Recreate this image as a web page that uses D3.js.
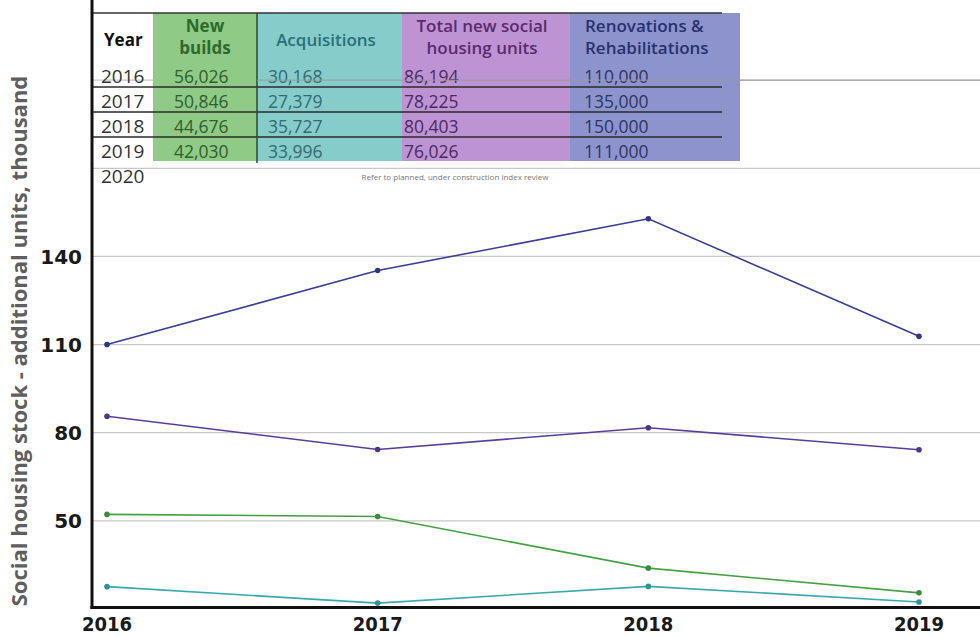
<!DOCTYPE html>
<html>
<head>
<meta charset="utf-8">
<script src="https://cdn.jsdelivr.net/npm/d3@7"></script>
<style>
    body { margin: 0; background: #fff; }
    #chart { width: 980px; height: 637px; }
    .tick-y { font-family: "DejaVu Sans", sans-serif; font-weight: bold; font-size: 20px; fill: #1a1a1a; }
    .tick-x { font-family: "DejaVu Sans Condensed", "DejaVu Sans", sans-serif; font-weight: bold; font-size: 20px; fill: #1a1a1a; }
    .tbl { font-family: "Open Sans", sans-serif; }
</style>
</head>
<body>
<div id="chart"></div>
<script>

// plotted series (thousand units)
let years = [2016, 2017, 2018, 2019];
let renovations = [110.0, 135.2, 152.8, 112.8];
let totalNew = [85.6, 74.3, 81.7, 74.2];
let newBuilds = [52.2, 51.5, 33.9, 25.5];
let acquisitions = [27.6, 22.0, 27.7, 22.4];

// y ticks
let gridTicks = [50, 80, 110, 140, 170, 200];
let labelTicks = [50, 80, 110, 140];

// table contents
let tableYears = ["2016", "2017", "2018", "2019"];
let tableNewBuilds = ["56,026", "50,846", "44,676", "42,030"];
let tableAcquisitions = ["30,168", "27,379", "35,727", "33,996"];
let tableTotal = ["86,194", "78,225", "80,403", "76,026"];
let tableRenovations = ["110,000", "135,000", "150,000", "111,000"];

let width = 980, height = 637;

let svg = d3.select("#chart").append("svg")
    .attr("width", width)
    .attr("height", height);

let x = d3.scaleLinear().domain([2016, 2019]).range([107, 919]);
let y = d3.scaleLinear().domain([20, 230]).range([609, -8]);
let axisX = 92;

// gridlines
svg.append("g").selectAll("line")
    .data(gridTicks)
    .enter().append("line")
    .attr("x1", axisX).attr("x2", width)
    .attr("y1", d => y(d)).attr("y2", d => y(d))
    .attr("stroke", "#c8c8c8")
    .attr("stroke-width", 1.2);

/* ---------- table ---------- */
let colX = [92, 153, 257, 402, 570, 740];
let colFill = [null, "#8fca86", "#86cccb", "#bd93d3", "#8d94cd"];
let headTop = 13, rowTop = 62, rowH = 25, fillBottom = 161;

let tbl = svg.append("g").attr("class", "tbl");

tbl.selectAll("rect.col")
    .data(colFill.slice(1))
    .enter().append("rect")
    .attr("class", "col")
    .attr("x", (d, i) => colX[i + 1])
    .attr("y", headTop)
    .attr("width", (d, i) => colX[i + 2] - colX[i + 1])
    .attr("height", fillBottom - headTop)
    .attr("fill", d => d);

// gridline at 200 shows through the right part of the table
svg.append("line")
    .attr("x1", colX[2]).attr("x2", width)
    .attr("y1", y(200)).attr("y2", y(200))
    .attr("stroke", "#9a9a9a")
    .attr("stroke-width", 1);

// headers
let headers = [
    {lines: ["Year"], x: 104, anchor: "start", color: "#111", weight: 700},
    {lines: ["New", "builds"], x: 205, anchor: "middle", color: "#2d6a2d", weight: 700},
    {lines: ["Acquisitions"], x: 326, anchor: "middle", color: "#2b6f78", weight: 600},
    {lines: ["Total new social", "housing units"], x: 482, anchor: "middle", color: "#5b2a6e", weight: 600},
    {lines: ["Renovations &", "Rehabilitations"], x: 585, anchor: "start", color: "#29316e", weight: 600}
];

headers.forEach(h => {
    let t = tbl.append("text")
        .attr("x", h.x)
        .attr("text-anchor", h.anchor)
        .attr("fill", h.color)
        .attr("font-weight", h.weight)
        .attr("font-size", "17px");
    if (h.lines.length === 1) {
        t.append("tspan").attr("x", h.x).attr("y", 46).text(h.lines[0]);
    } else {
        t.append("tspan").attr("x", h.x).attr("y", 32).text(h.lines[0]);
        t.append("tspan").attr("x", h.x).attr("y", 54).text(h.lines[1]);
    }
});

// rows
let columns = [
    {vals: tableYears, x: 101, color: "#333", size: 19},
    {vals: tableNewBuilds, x: 174, color: "#2f5f2f", size: 17.5},
    {vals: tableAcquisitions, x: 268, color: "#356b72", size: 17.5},
    {vals: tableTotal, x: 404, color: "#4d2a5e", size: 17.5},
    {vals: tableRenovations, x: 584, color: "#2f3563", size: 17.5}
];

columns.forEach(c => {
    tbl.selectAll(null)
        .data(c.vals)
        .enter().append("text")
        .attr("x", c.x)
        .attr("y", (d, i) => rowTop + 21 + i * rowH)
        .attr("fill", c.color)
        .attr("font-size", c.size + "px")
        .text(d => d);
});

tbl.append("text")
    .attr("x", 101)
    .attr("y", rowTop + 21 + 4 * rowH)
    .attr("fill", "#333")
    .attr("font-size", "19px")
    .text("2020");

tbl.append("text")
    .attr("x", 455)
    .attr("y", 180)
    .attr("text-anchor", "middle")
    .attr("fill", "#777")
    .attr("font-size", "8px")
    .text("Refer to planned, under construction index review");

// table rules
tbl.append("line")
    .attr("x1", axisX).attr("x2", 722)
    .attr("y1", headTop).attr("y2", headTop)
    .attr("stroke", "#333").attr("stroke-width", 1.5);

tbl.selectAll("line.row")
    .data([1, 2, 3])
    .enter().append("line")
    .attr("class", "row")
    .attr("x1", axisX).attr("x2", 722)
    .attr("y1", d => rowTop + d * rowH).attr("y2", d => rowTop + d * rowH)
    .attr("stroke", "#2a2a2a").attr("stroke-width", 1.5);

tbl.append("line")
    .attr("x1", colX[2]).attr("x2", colX[2])
    .attr("y1", headTop).attr("y2", fillBottom + 2)
    .attr("stroke", "#2a4a3a").attr("stroke-width", 1.5);

/* ---------- series ---------- */
let series = [
    {name: "Renovations & Rehabilitations", values: renovations, color: "#3a3f98"},
    {name: "Total new social housing units", values: totalNew, color: "#5a3d9c"},
    {name: "New builds", values: newBuilds, color: "#45a045"},
    {name: "Acquisitions", values: acquisitions, color: "#3aa9ad"}
];

let line = d3.line()
    .x((d, i) => x(years[i]))
    .y(d => y(d));

let sg = svg.append("g").selectAll("g")
    .data(series)
    .enter().append("g");

sg.append("path")
    .attr("d", d => line(d.values))
    .attr("fill", "none")
    .attr("stroke", d => d.color)
    .attr("stroke-width", 1.6);

sg.selectAll("circle")
    .data(d => d.values.map(v => ({v: v, color: d.color})))
    .enter().append("circle")
    .attr("cx", (d, i) => x(years[i]))
    .attr("cy", d => y(d.v))
    .attr("r", 2.8)
    .attr("fill", d => d3.color(d.color).darker(0.4));

/* ---------- axes ---------- */
svg.append("line")
    .attr("x1", axisX).attr("x2", axisX)
    .attr("y1", 0).attr("y2", y(20))
    .attr("stroke", "#111").attr("stroke-width", 3);

svg.append("line")
    .attr("x1", axisX - 1.5).attr("x2", width)
    .attr("y1", y(20) - 1.5).attr("y2", y(20) - 1.5)
    .attr("stroke", "#111").attr("stroke-width", 3);

svg.append("g").selectAll("text")
    .data(labelTicks)
    .enter().append("text")
    .attr("class", "tick-y")
    .attr("x", 82)
    .attr("y", d => y(d))
    .attr("dy", "0.36em")
    .attr("text-anchor", "end")
    .text(d => d);

svg.append("g").selectAll("text")
    .data(years)
    .enter().append("text")
    .attr("class", "tick-x")
    .attr("x", d => x(d))
    .attr("y", 631)
    .attr("text-anchor", "middle")
    .text(d => d);

// y axis title
svg.append("text")
    .attr("transform", "translate(27, 341) rotate(-90)")
    .attr("text-anchor", "middle")
    .attr("font-family", "Open Sans, sans-serif")
    .attr("font-weight", 700)
    .attr("font-size", "22px")
    .attr("fill", "#5f5f5f")
    .text("Social housing stock - additional units, thousand");

</script>
</body>
</html>
